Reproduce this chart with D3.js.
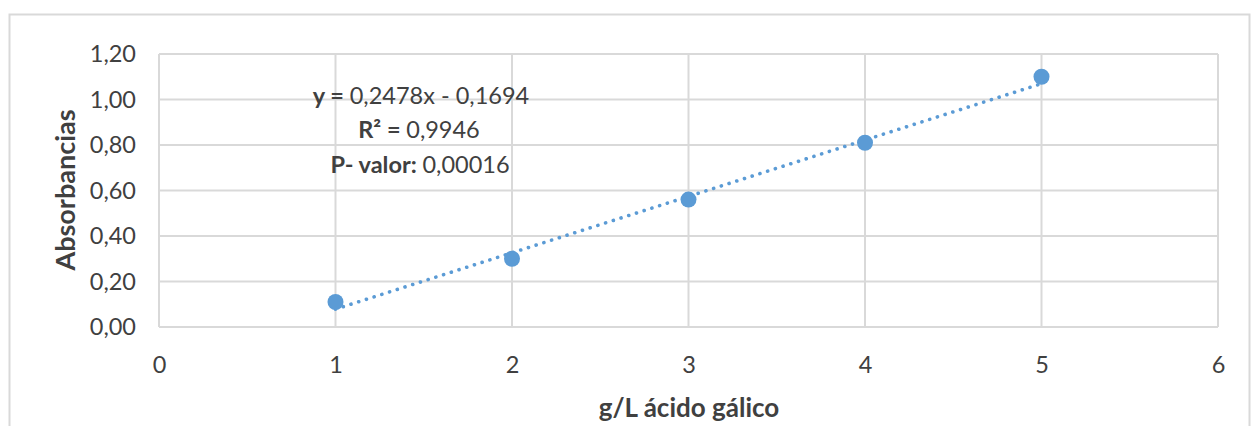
<!DOCTYPE html>
<html>
<head>
<meta charset="utf-8">
<script src="https://cdn.jsdelivr.net/npm/d3@7"></script>
<style>
  body { margin: 0; background: #fff; overflow: hidden; }
  text { font-family: Lato, "Noto Sans", sans-serif; fill: #404040; }
</style>
</head>
<body>
<div id="chart"></div>
<script>
const width = 1260,
      height = 426,
      margin = { top: 54, right: 42, bottom: 99, left: 159 };

const innerWidth = width - (margin.right + margin.left),
      innerHeight = height - (margin.top + margin.bottom);

// data
const concentrations = [1, 2, 3, 4, 5],
      absorbances = [0.11, 0.30, 0.56, 0.81, 1.10],
      xTicks = [0, 1, 2, 3, 4, 5, 6],
      yTicks = [0, 0.2, 0.4, 0.6, 0.8, 1.0, 1.2];

// trendline shown on the chart
const slope = 0.2478,
      intercept = -0.1694,
      rSquared = '0,9946',
      pValue = '0,00016';

const blue = '#5b9bd5',
      gridColor = '#d9d9d9';

const svg = d3.select('#chart').append('svg')
    .attr('width', width)
    .attr('height', height)
    .style('display', 'block');

// chart area border (bottom cut off)
svg.append('path')
    .attr('d', `M9.5,${height} V14.5 H1249.5 V${height}`)
    .attr('fill', 'none')
    .attr('stroke', gridColor)
    .attr('stroke-width', 2);

const plot = svg.append('g')
    .attr('transform', `translate(${margin.left}, ${margin.top})`);

const xScale = d3.scaleLinear()
    .domain([0, 6])
    .range([0, innerWidth]),
  yScale = d3.scaleLinear()
    .domain([0, 1.2])
    .range([innerHeight, 0]);

const fmt = d => d3.format('.2f')(d).replace('.', ',');

// gridlines
plot.append('g')
    .selectAll('line')
    .data(yTicks)
    .enter().append('line')
      .attr('x1', 0)
      .attr('x2', innerWidth)
      .attr('y1', d => yScale(d))
      .attr('y2', d => yScale(d))
      .attr('stroke', gridColor)
      .attr('stroke-width', 2);

plot.append('g')
    .selectAll('line')
    .data(xTicks)
    .enter().append('line')
      .attr('x1', d => xScale(d))
      .attr('x2', d => xScale(d))
      .attr('y1', 0)
      .attr('y2', innerHeight)
      .attr('stroke', gridColor)
      .attr('stroke-width', 2);

// axes (labels only, Excel style)
const yAxis = plot.append('g')
    .attr('font-family', null)
    .call(d3.axisLeft(yScale).tickValues(yTicks).tickFormat(fmt).tickSize(0).tickPadding(23));
yAxis.attr('font-family', null).attr('font-size', 23.5);
yAxis.select('.domain').remove();
yAxis.selectAll('text').attr('fill', '#404040');

const xAxis = plot.append('g')
    .attr('transform', `translate(0, ${innerHeight})`)
    .call(d3.axisBottom(xScale).tickValues(xTicks).tickFormat(d3.format('d')).tickSize(0).tickPadding(29));
xAxis.attr('font-family', null).attr('font-size', 23.5);
xAxis.select('.domain').remove();
xAxis.selectAll('text').attr('fill', '#404040');

// trendline
const x0 = d3.min(concentrations), x1 = d3.max(concentrations);
plot.append('line')
    .attr('x1', xScale(x0))
    .attr('y1', yScale(slope * x0 + intercept))
    .attr('x2', xScale(x1))
    .attr('y2', yScale(slope * x1 + intercept))
    .attr('stroke', blue)
    .attr('stroke-width', 3.6)
    .attr('stroke-linecap', 'round')
    .attr('stroke-dasharray', '0.1 8');

// points
plot.selectAll('.dot')
    .data(concentrations.map((c, i) => ({ x: c, y: absorbances[i] })))
    .enter().append('circle')
      .attr('class', 'dot')
      .attr('cx', d => xScale(d.x))
      .attr('cy', d => yScale(d.y))
      .attr('r', 8)
      .attr('fill', blue);

// equation annotation
const eq = svg.append('text')
    .attr('text-anchor', 'middle')
    .attr('font-size', 23.5)
    .attr('x', 421);

const line1 = eq.append('tspan').attr('x', 421).attr('y', 104);
line1.append('tspan').attr('font-weight', 'bold').text('y = ');
line1.append('tspan').text(`${String(slope).replace('.', ',')}x - ${String(-intercept).replace('.', ',')}`);

const line2 = eq.append('tspan').attr('x', 419).attr('y', 138);
line2.append('tspan').attr('font-weight', 'bold').text('R² = ');
line2.append('tspan').text(rSquared);

const line3 = eq.append('tspan').attr('x', 420).attr('y', 173);
line3.append('tspan').attr('font-weight', 'bold').text('P- valor: ');
line3.append('tspan').text(pValue);

// axis titles
svg.append('text')
    .attr('transform', `translate(75, 190) rotate(-90)`)
    .attr('text-anchor', 'middle')
    .attr('font-size', 27)
    .attr('font-weight', 'bold')
    .text('Absorbancias');

svg.append('text')
    .attr('x', 689)
    .attr('y', 417)
    .attr('text-anchor', 'middle')
    .attr('font-size', 26)
    .attr('font-weight', 'bold')
    .text('g/L ácido gálico');
</script>
</body>
</html>
